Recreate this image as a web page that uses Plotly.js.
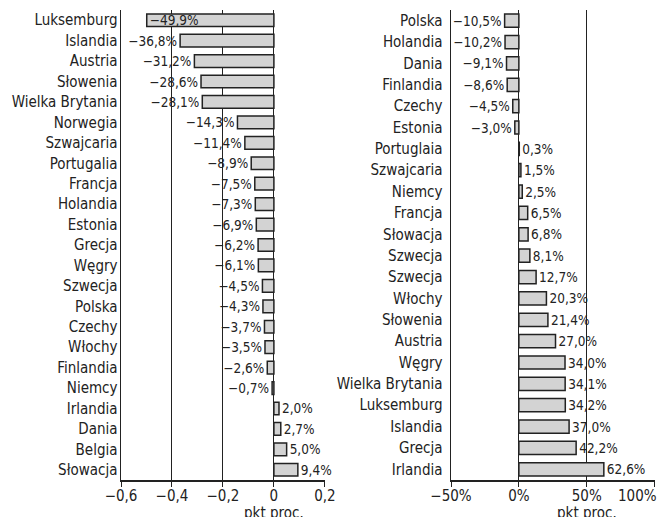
<!DOCTYPE html>
<html>
<head>
<meta charset="utf-8">
<script src="https://cdn.plot.ly/plotly-3.0.1.min.js"></script>
<style>html,body{margin:0;padding:0;background:#fff;}#chart{width:659px;height:517px;}</style>
</head>
<body>
<div id="chart"></div>
<script>
// Left panel (values as fractions, axis in pkt proc.)
const leftCountries = ["Luksemburg","Islandia","Austria","Słowenia","Wielka Brytania","Norwegia","Szwajcaria","Portugalia","Francja","Holandia","Estonia","Grecja","Węgry","Szwecja","Polska","Czechy","Włochy","Finlandia","Niemcy","Irlandia","Dania","Belgia","Słowacja"];
const leftValues = [-0.499,-0.368,-0.312,-0.286,-0.281,-0.143,-0.114,-0.089,-0.075,-0.073,-0.069,-0.062,-0.061,-0.045,-0.043,-0.037,-0.035,-0.026,-0.007,0.020,0.027,0.050,0.094];

// Right panel (values in %)
const rightCountries = ["Polska","Holandia","Dania","Finlandia","Czechy","Estonia","Portuglaia","Szwajcaria","Niemcy","Francja","Słowacja","Szwecja","Szwecja","Włochy","Słowenia","Austria","Węgry","Wielka Brytania","Luksemburg","Islandia","Grecja","Irlandia"];
const rightValues = [-10.5,-10.2,-9.1,-8.6,-4.5,-3.0,0.3,1.5,2.5,6.5,6.8,8.1,12.7,20.3,21.4,27.0,34.0,34.1,34.2,37.0,42.2,62.6];

const leftTickVals = [-0.6,-0.4,-0.2,0,0.2];
const leftTickText = ["−0,6","−0,4","−0,2","0","0,2"];
const rightTickVals = [-50,0,50,100];
const rightTickText = ["−50%","0%","50%",""];
const rightLastTick = "100%";
const axisTitle = "pkt proc.";

function fmt(p){
  const s = Math.abs(p).toFixed(1).replace(".", ",");
  return (p < 0 ? "−" : "") + s + "%";
}

const FONT = "'DejaVu Sans Condensed','Liberation Sans Narrow','DejaVu Sans',sans-serif";
const barColor = "#d3d3d3";
const lineColor = "#222222";
const txtColor = "#222";

const leftIdx = leftCountries.map((_, i) => i);
const rightIdx = rightCountries.map((_, i) => i);

const valFont = {family: FONT, size: 13.5, color: txtColor};

const traceL = {
  type: "bar", orientation: "h",
  x: leftValues, y: leftIdx,
  xaxis: "x", yaxis: "y",
  width: 0.62,
  marker: {color: barColor, line: {color: lineColor, width: 1.5}},
  text: leftValues.map(v => fmt(v * 100)),
  textposition: leftValues.map(v => v < -0.45 ? "inside" : "outside"),
  insidetextanchor: "end",
  constraintext: "none",
  cliponaxis: false,
  textfont: valFont, insidetextfont: valFont, outsidetextfont: valFont,
  hoverinfo: "skip"
};

const traceR = {
  type: "bar", orientation: "h",
  x: rightValues, y: rightIdx,
  xaxis: "x2", yaxis: "y2",
  width: 0.62,
  marker: {color: barColor, line: {color: lineColor, width: 1.5}},
  text: rightValues.map(v => fmt(v)),
  textposition: "outside",
  constraintext: "none",
  cliponaxis: false,
  textfont: valFont, outsidetextfont: valFont,
  hoverinfo: "skip"
};

const axisFont = {family: FONT, size: 15, color: txtColor};
const catFont = {family: FONT, size: 15, color: txtColor};

const layout = {
  width: 659, height: 517,
  margin: {l: 121, r: 4, t: 10, b: 37},
  paper_bgcolor: "#fff", plot_bgcolor: "#fff",
  showlegend: false,
  font: {family: FONT, size: 13, color: txtColor},
  xaxis: {
    domain: [0, 0.382], range: [-0.6, 0.2005],
    tickvals: leftTickVals, ticktext: leftTickText,
    showgrid: true, gridcolor: lineColor, gridwidth: 1,
    zeroline: false,
    showline: true, linecolor: lineColor, linewidth: 1.5,
    ticks: "outside", ticklen: 5, tickcolor: lineColor,
    ticklabelstandoff: -4,
    tickfont: axisFont, anchor: "y"
  },
  yaxis: {
    domain: [0, 1], range: [22.5, -0.5],
    tickvals: leftIdx, ticktext: leftCountries,
    showgrid: false, zeroline: false,
    showline: true, linecolor: lineColor, linewidth: 1.5,
    ticks: "", ticklabelstandoff: -1,
    tickfont: catFont, anchor: "x"
  },
  xaxis2: {
    domain: [0.618, 1], range: [-50, 100.3],
    tickvals: rightTickVals, ticktext: rightTickText,
    showgrid: true, gridcolor: lineColor, gridwidth: 1,
    zeroline: false,
    showline: true, linecolor: lineColor, linewidth: 1.5,
    ticks: "outside", ticklen: 5, tickcolor: lineColor,
    ticklabelstandoff: -4,
    tickfont: axisFont, anchor: "y2"
  },
  yaxis2: {
    domain: [0, 1], range: [21.5, -0.5],
    tickvals: rightIdx, ticktext: rightCountries,
    showgrid: false, zeroline: false,
    showline: true, linecolor: lineColor, linewidth: 1.5,
    ticks: "", ticklabelstandoff: 4,
    tickfont: catFont, anchor: "x2"
  },
  annotations: [
    {text: rightLastTick, xref: "x2", yref: "paper", x: 100, y: 0, yshift: -5, xshift: 4,
     yanchor: "top", xanchor: "right", showarrow: false, font: axisFont},
    {text: axisTitle, xref: "x", yref: "paper", x: 0, y: 0, yshift: -22,
     yanchor: "top", xanchor: "center", showarrow: false, font: axisFont},
    {text: axisTitle, xref: "x2", yref: "paper", x: 50, y: 0, yshift: -22,
     yanchor: "top", xanchor: "center", showarrow: false, font: axisFont}
  ]
};

Plotly.newPlot("chart", [traceL, traceR], layout, {staticPlot: true, displayModeBar: false});
</script>
</body>
</html>
